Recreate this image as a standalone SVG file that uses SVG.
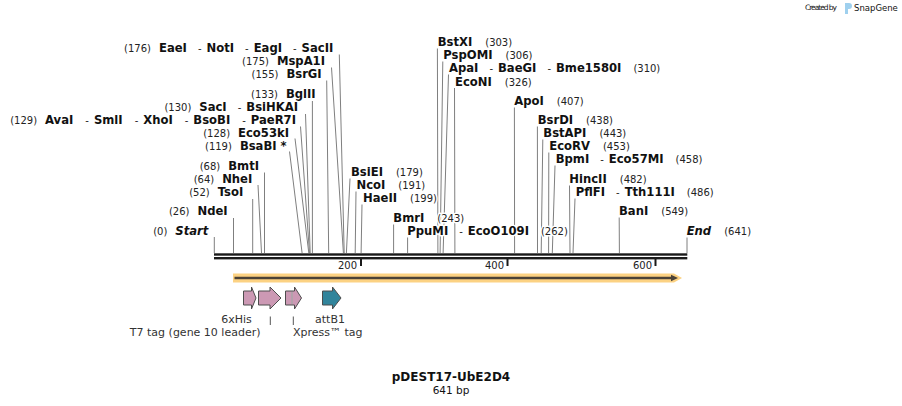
<svg xmlns="http://www.w3.org/2000/svg" width="902" height="406" viewBox="0 0 902 406">
<style>
text{font-family:"DejaVu Sans",Verdana,sans-serif;fill:#111}
.r{stroke:#fff;stroke-width:3px;paint-order:stroke;stroke-linejoin:round}
.b{font-weight:bold;font-size:11.6px}
.n{font-weight:normal;font-size:10px;fill:#222}
.bi{font-weight:bold;font-style:italic;font-size:11.6px}
.cn line{stroke:#7f7f7f;stroke-width:1}
.ft{stroke:#4d4d4d;stroke-width:1}
.fl{font-size:11px;fill:#333}
.sc{font-size:10px;fill:#222}
</style>
<rect width="902" height="406" fill="#fff"/>
<g id="watermark">
<text x="805" y="10" font-size="7.5" fill="#c4c4c4" textLength="32">Created by</text>
<path d="M845,3 h4 a3,3 0 0 1 0,6 h-1 v5 h-3 z" fill="#9fd0ee"/>
<text x="854" y="11" font-size="8.5" fill="#a0a0a0">SnapGene</text>
</g>
<g id="connectors" class="cn">
<line x1="214.3" y1="237" x2="214.3" y2="253"/>
<line x1="233.5" y1="218" x2="233.5" y2="253"/>
<line x1="252.7" y1="199" x2="252.7" y2="253"/>
<line x1="258" y1="185" x2="261.5" y2="253"/>
<line x1="264.5" y1="172.5" x2="264.5" y2="253"/>
<line x1="289.5" y1="151.5" x2="302.1" y2="253"/>
<line x1="295" y1="138.5" x2="308.8" y2="253"/>
<line x1="300.5" y1="126.5" x2="309.5" y2="253"/>
<line x1="305.5" y1="114" x2="310.2" y2="253"/>
<line x1="312.4" y1="101" x2="312.4" y2="253"/>
<line x1="326.7" y1="80.5" x2="328.7" y2="253"/>
<line x1="331.5" y1="67.5" x2="343.4" y2="253"/>
<line x1="339.3" y1="54.5" x2="344.2" y2="253"/>
<line x1="350" y1="178.5" x2="346.4" y2="253"/>
<line x1="356" y1="191.5" x2="355.2" y2="253"/>
<line x1="362" y1="204.5" x2="361.1" y2="253"/>
<line x1="393.6" y1="224.5" x2="393.6" y2="253"/>
<line x1="407.6" y1="237.5" x2="407.6" y2="253"/>
<line x1="437.4" y1="48.5" x2="437.9" y2="253"/>
<line x1="442.8" y1="61.5" x2="440.1" y2="253"/>
<line x1="448.5" y1="74.5" x2="443.1" y2="253"/>
<line x1="454.5" y1="88" x2="454.9" y2="253"/>
<line x1="514.4" y1="107.5" x2="514.6" y2="253"/>
<line x1="537.4" y1="126.5" x2="537.5" y2="253"/>
<line x1="542.8" y1="139.5" x2="541.2" y2="253"/>
<line x1="548.8" y1="152.5" x2="548.6" y2="253"/>
<line x1="555" y1="165.5" x2="552.3" y2="253"/>
<line x1="569.5" y1="185.5" x2="570" y2="253"/>
<line x1="575" y1="198.5" x2="573" y2="253"/>
<line x1="619.2" y1="217.5" x2="619.4" y2="253"/>
<line x1="687" y1="237.5" x2="687" y2="253"/>
</g>
<g id="sequence">
<rect x="214" y="253.3" width="473.3" height="2.4" fill="#1a1a1a"/>
<rect x="214" y="257" width="473.3" height="2.4" fill="#1a1a1a"/>
<g fill="#1a1a1a">
<rect x="360" y="259" width="2" height="7"/>
<rect x="506.5" y="259" width="2" height="7"/>
<rect x="654.5" y="259" width="2" height="7"/>
</g>
<text class="sc" x="357" y="269" text-anchor="end">200</text>
<text class="sc" x="504" y="269" text-anchor="end">400</text>
<text class="sc" x="652" y="269" text-anchor="end">600</text>
</g>
<g id="orf">
<polygon points="233,273.5 674,273.5 682,278 674,282.5 233,282.5" fill="#fcd283"/>
<line x1="234.5" y1="278" x2="673" y2="278" stroke="#4b4237" stroke-width="2.4"/>
<polygon points="671,274.8 678,278 671,281.2" fill="#4b4237"/>
</g>
<g id="f-6xHis">
<path class="ft" d="M243.5,291 H251.5 V287 L256,298 L251.5,309 V305 H243.5 Z" fill="#cc99b4"/>
<text class="fl" x="236.5" y="323" text-anchor="middle">6xHis</text>
</g>
<g id="f-T7tag">
<path class="ft" d="M258.5,291 H270 V287 L281,298 L270,309 V305 H258.5 Z" fill="#cc99b4"/>
<line x1="270.3" y1="316.5" x2="270.3" y2="325" stroke="#555"/>
<text class="fl" x="260.5" y="336" text-anchor="end">T7 tag (gene 10 leader)</text>
</g>
<g id="f-Xpress">
<path class="ft" d="M285.5,291 H294.5 V287 L301.5,298 L294.5,309 V305 H285.5 Z" fill="#cc99b4"/>
<line x1="292" y1="291.5" x2="292" y2="304.5" stroke="#fff" stroke-width="1"/>
<line x1="292" y1="291.5" x2="292" y2="304.5" stroke="#222" stroke-width="1" stroke-dasharray="1,1"/>
<line x1="293.3" y1="316.5" x2="293.3" y2="325" stroke="#555"/>
<text class="fl" x="293" y="336">Xpress™ tag</text>
</g>
<g id="f-attB1">
<path class="ft" d="M322.5,291 H332.5 V287 L341,298 L332.5,309 V305 H322.5 Z" fill="#31849b" stroke="#333"/>
<text class="fl" x="330" y="323" text-anchor="middle">attB1</text>
</g>
<g id="site-176"><text class="r" x="333.3" y="52" text-anchor="end"><tspan class="n">(176)</tspan><tspan class="b" dx="8">EaeI</tspan><tspan class="n" dx="11">-</tspan><tspan class="b" dx="5">NotI</tspan><tspan class="n" dx="11">-</tspan><tspan class="b" dx="5">EagI</tspan><tspan class="n" dx="11">-</tspan><tspan class="b" dx="5">SacII</tspan></text></g>
<g id="site-175"><text class="r" x="325" y="65" text-anchor="end"><tspan class="n">(175)</tspan><tspan class="b" dx="8">MspA1I</tspan></text></g>
<g id="site-155"><text class="r" x="321.7" y="78" text-anchor="end"><tspan class="n">(155)</tspan><tspan class="b" dx="8">BsrGI</tspan></text></g>
<g id="site-133"><text class="r" x="315.7" y="98" text-anchor="end"><tspan class="n">(133)</tspan><tspan class="b" dx="8">BglII</tspan></text></g>
<g id="site-130"><text class="r" x="298" y="111" text-anchor="end"><tspan class="n">(130)</tspan><tspan class="b" dx="8">SacI</tspan><tspan class="n" dx="11">-</tspan><tspan class="b" dx="5">BsiHKAI</tspan></text></g>
<g id="site-129"><text class="r" x="296" y="124" text-anchor="end"><tspan class="n">(129)</tspan><tspan class="b" dx="8">AvaI</tspan><tspan class="n" dx="12">-</tspan><tspan class="b" dx="5">SmlI</tspan><tspan class="n" dx="12">-</tspan><tspan class="b" dx="5">XhoI</tspan><tspan class="n" dx="12">-</tspan><tspan class="b" dx="5">BsoBI</tspan><tspan class="n" dx="12">-</tspan><tspan class="b" dx="5">PaeR7I</tspan></text></g>
<g id="site-128"><text class="r" x="289" y="137" text-anchor="end"><tspan class="n">(128)</tspan><tspan class="b" dx="8">Eco53kI</tspan></text></g>
<g id="site-119"><text class="r" x="286.7" y="150" text-anchor="end"><tspan class="n">(119)</tspan><tspan class="b" dx="8">BsaBI *</tspan></text></g>
<g id="site-68"><text class="r" x="259" y="170" text-anchor="end"><tspan class="n">(68)</tspan><tspan class="b" dx="8">BmtI</tspan></text></g>
<g id="site-64"><text class="r" x="252.3" y="183" text-anchor="end"><tspan class="n">(64)</tspan><tspan class="b" dx="8">NheI</tspan></text></g>
<g id="site-52"><text class="r" x="243.3" y="196" text-anchor="end"><tspan class="n">(52)</tspan><tspan class="b" dx="8">TsoI</tspan></text></g>
<g id="site-26"><text class="r" x="227.7" y="215" text-anchor="end"><tspan class="n">(26)</tspan><tspan class="b" dx="8">NdeI</tspan></text></g>
<g id="site-start"><text class="r" x="208.3" y="235" text-anchor="end"><tspan class="n">(0)</tspan><tspan class="bi" dx="8">Start</tspan></text></g>
<g id="site-179"><text class="r" x="351" y="176.3"><tspan class="b">BsiEI</tspan><tspan class="n" dx="13">(179)</tspan></text></g>
<g id="site-191"><text class="r" x="356.5" y="189"><tspan class="b">NcoI</tspan><tspan class="n" dx="13">(191)</tspan></text></g>
<g id="site-199"><text class="r" x="363" y="202.3"><tspan class="b">HaeII</tspan><tspan class="n" dx="13">(199)</tspan></text></g>
<g id="site-243"><text class="r" x="393.3" y="222.3"><tspan class="b">BmrI</tspan><tspan class="n" dx="13">(243)</tspan></text></g>
<g id="site-262"><text class="r" x="407.3" y="235"><tspan class="b">PpuMI</tspan><tspan class="n" dx="11">-</tspan><tspan class="b" dx="5">EcoO109I</tspan><tspan class="n" dx="12">(262)</tspan></text></g>
<g id="site-303"><text class="r" x="437.7" y="46.3"><tspan class="b">BstXI</tspan><tspan class="n" dx="13">(303)</tspan></text></g>
<g id="site-306"><text class="r" x="443.3" y="59"><tspan class="b">PspOMI</tspan><tspan class="n" dx="13">(306)</tspan></text></g>
<g id="site-310"><text class="r" x="449" y="72.3"><tspan class="b">ApaI</tspan><tspan class="n" dx="11">-</tspan><tspan class="b" dx="5">BaeGI</tspan><tspan class="n" dx="11">-</tspan><tspan class="b" dx="5">Bme1580I</tspan><tspan class="n" dx="12">(310)</tspan></text></g>
<g id="site-326"><text class="r" x="455" y="85.5"><tspan class="b">EcoNI</tspan><tspan class="n" dx="13">(326)</tspan></text></g>
<g id="site-407"><text class="r" x="514.3" y="105"><tspan class="b">ApoI</tspan><tspan class="n" dx="13">(407)</tspan></text></g>
<g id="site-438"><text class="r" x="537.7" y="124"><tspan class="b">BsrDI</tspan><tspan class="n" dx="13">(438)</tspan></text></g>
<g id="site-443"><text class="r" x="543.3" y="137.3"><tspan class="b">BstAPI</tspan><tspan class="n" dx="13">(443)</tspan></text></g>
<g id="site-453"><text class="r" x="549.3" y="149.7"><tspan class="b">EcoRV</tspan><tspan class="n" dx="13">(453)</tspan></text></g>
<g id="site-458"><text class="r" x="555.7" y="163.3"><tspan class="b">BpmI</tspan><tspan class="n" dx="11">-</tspan><tspan class="b" dx="5">Eco57MI</tspan><tspan class="n" dx="12">(458)</tspan></text></g>
<g id="site-482"><text class="r" x="569.3" y="183.3"><tspan class="b">HincII</tspan><tspan class="n" dx="13">(482)</tspan></text></g>
<g id="site-486"><text class="r" x="575.7" y="196.3"><tspan class="b">PflFI</tspan><tspan class="n" dx="11">-</tspan><tspan class="b" dx="5">Tth111I</tspan><tspan class="n" dx="12">(486)</tspan></text></g>
<g id="site-549"><text class="r" x="619" y="215"><tspan class="b">BanI</tspan><tspan class="n" dx="13">(549)</tspan></text></g>
<g id="site-end"><text class="r" x="686.7" y="235"><tspan class="bi">End</tspan><tspan class="n" dx="13">(641)</tspan></text></g>
<g id="title">
<text x="451" y="381" text-anchor="middle" font-weight="bold" font-size="12">pDEST17-UbE2D4</text>
<text x="451" y="393.5" text-anchor="middle" font-size="10.5" fill="#222">641 bp</text>
</g>
</svg>
